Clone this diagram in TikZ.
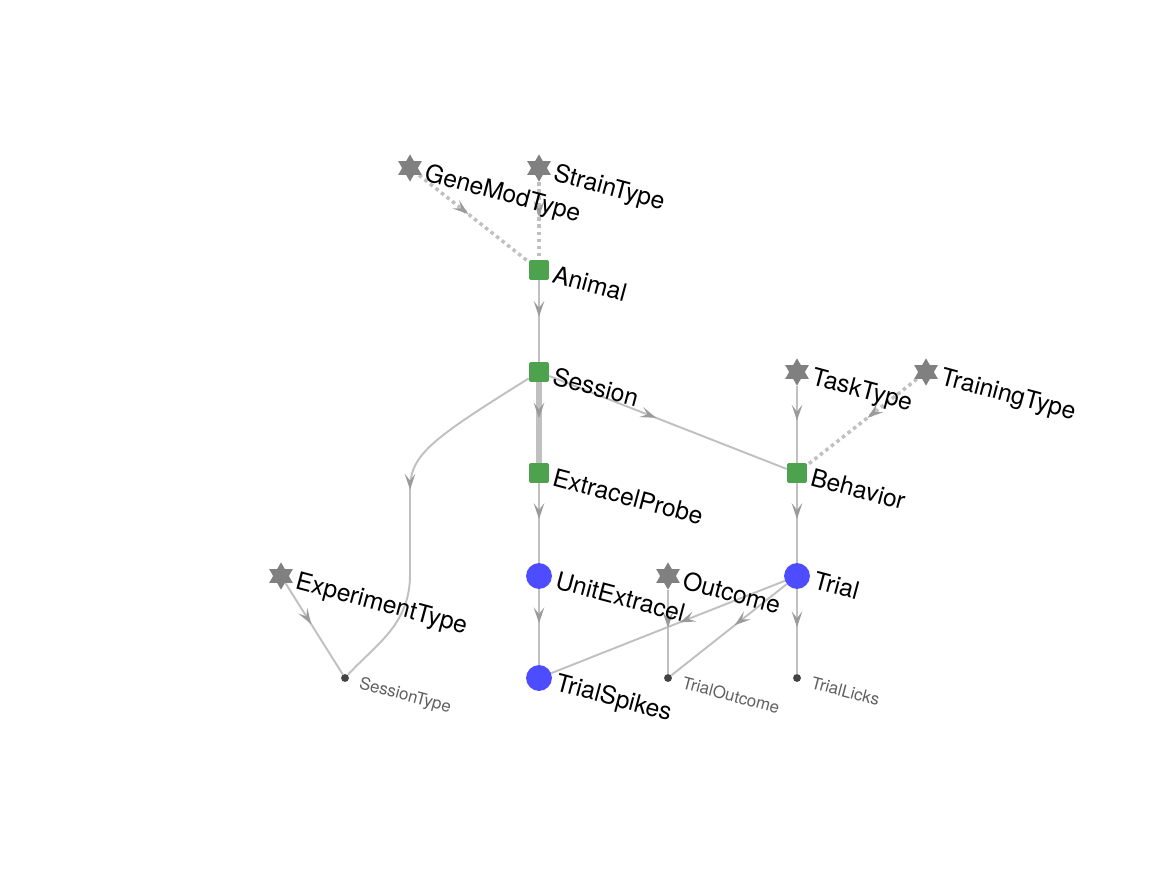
\documentclass[tikz,border=0pt]{standalone}
\usepackage{fontspec}
\setmainfont{TeX Gyre Heros}
\usetikzlibrary{arrows.meta, shapes.geometric, decorations.markings, backgrounds}

\definecolor{manualgreen}{RGB}{77,163,77}
\definecolor{computedblue}{RGB}{77,77,255}
\definecolor{lookupgray}{RGB}{128,128,128}
\definecolor{partgray}{RGB}{68,68,68}
\definecolor{edgegray}{RGB}{192,192,192}
\definecolor{tipgray}{RGB}{155,155,155}

\tikzset{
  manual/.style={rectangle, fill=manualgreen, minimum size=11.3pt, inner sep=0pt, rounded corners=0.8pt},
  computed/.style={circle, fill=computedblue, minimum size=14.7pt, inner sep=0pt},
  lookup/.style={star, star points=6, star point ratio=1.73, fill=lookupgray, minimum size=15.5pt, inner sep=0pt},
  partdot/.style={circle, fill=partgray, minimum size=4.5pt, inner sep=0pt},
  tname/.style={rotate=-15, anchor=base west, inner sep=0pt, font=\fontsize{14}{16}\selectfont},
  pname/.style={rotate=-15, anchor=base west, inner sep=0pt, text=partgray!85, font=\fontsize{9.6}{11}\selectfont},
  midtip/.style={postaction={decorate}, decoration={markings, mark=at position 0.45 with {\arrow[tipgray]{Stealth[length=9pt, width=6pt, inset=3.8pt]}}}},
  dep/.style={draw=edgegray, line width=1.1pt, midtip},
  primdep/.style={draw=edgegray, line width=3pt, midtip},
  nonprim/.style={draw=edgegray, line width=2pt, dash pattern=on 2pt off 2pt, midtip}
}

\begin{document}
\begin{tikzpicture}[x=0.02cm, y=-0.02cm]
  \useasboundingbox (0,0) rectangle (1167,875);

  \node[lookup] (GeneModType) at (410,168) {};
  \node[lookup] (StrainType) at (539,168) {};
  \node[manual] (Animal) at (539,270) {};
  \node[manual] (Session) at (539,372) {};
  \node[manual] (ExtracelProbe) at (539,473) {};
  \node[computed] (UnitExtracel) at (539,576) {};
  \node[computed] (TrialSpikes) at (539,678) {};
  \node[lookup] (TaskType) at (797,372) {};
  \node[lookup] (TrainingType) at (926,372) {};
  \node[manual] (Behavior) at (797,473) {};
  \node[computed] (Trial) at (797,576) {};
  \node[lookup] (Outcome) at (668,576) {};
  \node[lookup] (ExperimentType) at (281,576) {};
  \node[partdot] (SessionType) at (345,678) {};
  \node[partdot] (TrialOutcome) at (668,678) {};
  \node[partdot] (TrialLicks) at (797,678) {};

  \begin{scope}[on background layer]
    \draw[nonprim] (GeneModType) -- (Animal);
    \draw[nonprim] (StrainType) -- (Animal);
    \draw[dep] (Animal) -- (Session);
    \draw[primdep] (Session) -- (ExtracelProbe);
    \draw[dep] (Session) -- (Behavior);
    \draw[dep] (Session) .. controls (430,440) and (410,455) .. (410,490) -- (410,575) .. controls (410,625) and (375,645) .. (SessionType);
    \draw[dep] (ExperimentType) -- (SessionType);
    \draw[dep] (ExtracelProbe) -- (UnitExtracel);
    \draw[dep] (UnitExtracel) -- (TrialSpikes);
    \draw[dep] (TaskType) -- (Behavior);
    \draw[nonprim] (TrainingType) -- (Behavior);
    \draw[dep] (Behavior) -- (Trial);
    \draw[dep] (Trial) -- (TrialSpikes);
    \draw[dep] (Trial) -- (TrialOutcome);
    \draw[dep] (Outcome) -- (TrialOutcome);
    \draw[dep] (Trial) -- (TrialLicks);
  \end{scope}

  \node[tname] (GeneModType-t) at ([shift={(13,12)}]GeneModType.center) {GeneModType};
  \node[tname] (StrainType-t) at ([shift={(13,12)}]StrainType.center) {StrainType};
  \node[tname] (Animal-t) at ([shift={(12,12)}]Animal.center) {Animal};
  \node[tname] (Session-t) at ([shift={(12,12)}]Session.center) {Session};
  \node[tname] (ExtracelProbe-t) at ([shift={(12,12)}]ExtracelProbe.center) {ExtracelProbe};
  \node[tname] (UnitExtracel-t) at ([shift={(15,12)}]UnitExtracel.center) {UnitExtracel};
  \node[tname] (TrialSpikes-t) at ([shift={(15,12)}]TrialSpikes.center) {TrialSpikes};
  \node[tname] (TaskType-t) at ([shift={(13,12)}]TaskType.center) {TaskType};
  \node[tname] (TrainingType-t) at ([shift={(13,12)}]TrainingType.center) {TrainingType};
  \node[tname] (Behavior-t) at ([shift={(12,12)}]Behavior.center) {Behavior};
  \node[tname] (Trial-t) at ([shift={(15,12)}]Trial.center) {Trial};
  \node[tname] (Outcome-t) at ([shift={(13,12)}]Outcome.center) {Outcome};
  \node[tname] (ExperimentType-t) at ([shift={(13,12)}]ExperimentType.center) {ExperimentType};
  \node[pname] (SessionType-t) at ([shift={(13,10)}]SessionType.center) {SessionType};
  \node[pname] (TrialOutcome-t) at ([shift={(13,10)}]TrialOutcome.center) {TrialOutcome};
  \node[pname] (TrialLicks-t) at ([shift={(13,10)}]TrialLicks.center) {TrialLicks};
\end{tikzpicture}
\end{document}
